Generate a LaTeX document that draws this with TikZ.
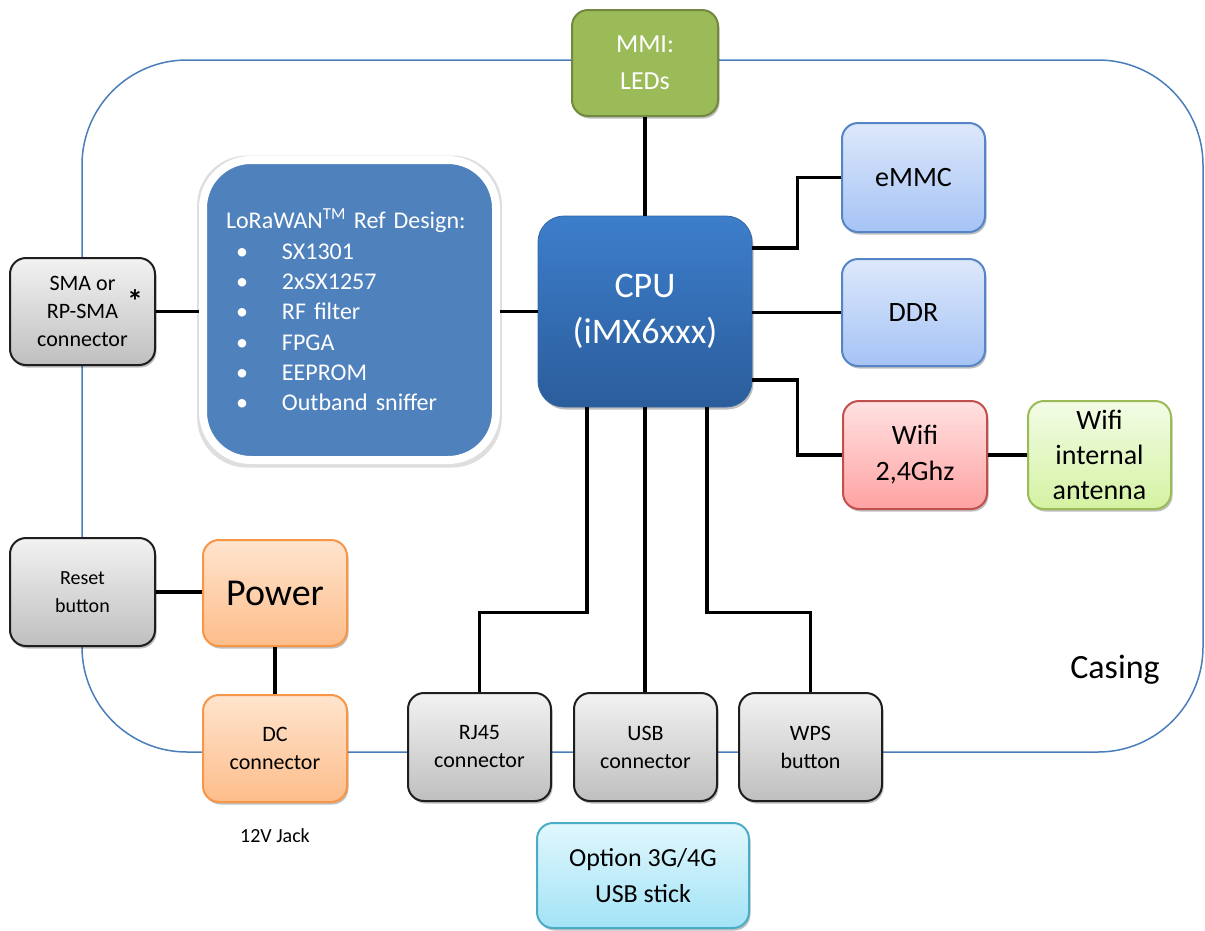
\documentclass[tikz,border=0pt]{standalone}
\usepackage{fontspec}
\setmainfont{Carlito}
\usetikzlibrary{shadows,calc}
\definecolor{casing}{HTML}{4A7EBB}
\definecolor{loraFill}{HTML}{4F81BD}
\definecolor{mmiFill}{HTML}{9BBB59}
\definecolor{mmiLine}{HTML}{71893F}
\definecolor{cpuTop}{HTML}{3D7ECB}
\definecolor{cpuBot}{HTML}{2B5D9C}
\definecolor{grayTop}{HTML}{F2F2F2}
\definecolor{grayBot}{HTML}{BFBFBF}
\definecolor{grayLine}{HTML}{1E1E1E}
\definecolor{lbTop}{HTML}{DDE8FB}
\definecolor{lbBot}{HTML}{A5C3F5}
\definecolor{lbLine}{HTML}{5585C5}
\definecolor{pkTop}{HTML}{FFE1E1}
\definecolor{pkBot}{HTML}{FFA2A2}
\definecolor{pkLine}{HTML}{C0504D}
\definecolor{lgTop}{HTML}{F3FCE6}
\definecolor{lgBot}{HTML}{D4F2A2}
\definecolor{lgLine}{HTML}{9BBB59}
\definecolor{orTop}{HTML}{FFE4CE}
\definecolor{orBot}{HTML}{FDBD8A}
\definecolor{orLine}{HTML}{F79646}
\definecolor{cyTop}{HTML}{E1F7FD}
\definecolor{cyBot}{HTML}{A2E3F6}
\definecolor{cyLine}{HTML}{4BACC6}
\newcommand\loraitem[1]{\makebox[56pt][l]{\hspace*{10pt}•}#1}
\tikzset{
  box/.style={rounded corners=16pt, line width=2pt, align=center, inner sep=0pt,
    text=black, drop shadow={shadow xshift=1.5pt, shadow yshift=-2.5pt, opacity=0.25, fill=black}},
  graybox/.style={box, draw=grayLine, top color=grayTop, bottom color=grayBot},
  lbbox/.style={box, draw=lbLine, top color=lbTop, bottom color=lbBot},
  pkbox/.style={box, draw=pkLine, top color=pkTop, bottom color=pkBot},
  lgbox/.style={box, draw=lgLine, top color=lgTop, bottom color=lgBot},
  orbox/.style={box, draw=orLine, top color=orTop, bottom color=orBot},
  cybox/.style={box, draw=cyLine, top color=cyTop, bottom color=cyBot},
  wire/.style={line width=3.5pt, draw=black},
  fs/.style n args={2}{font=\fontsize{#1}{#2}\selectfont},
}
\begin{document}
\begin{tikzpicture}[x=1pt,y=-1pt]
\useasboundingbox (0,0) rectangle (1205,930);
% casing
\draw[casing, line width=1.5pt, rounded corners=105pt] (82,60) rectangle (1203,752);
% nodes
\node[box, draw=mmiLine, fill=mmiFill, text=white, minimum width=146pt, minimum height=106pt, fs={26}{37}] (mmi) at (645,63) {MMI:\\LEDs};
\node[box, draw=cpuTop!80!black, line width=0.8pt, top color=cpuTop, bottom color=cpuBot, text=white, rounded corners=26pt, minimum width=214pt, minimum height=191pt, fs={36}{46}] (cpu) at (645,311.5) {CPU\\(iMX6xxx)};
\node[box, draw=white, line width=8pt, fill=loraFill, text=white, rounded corners=48pt, minimum width=293pt, minimum height=300pt, text width=247pt, align=left, fs={24}{30.3},
  drop shadow={shadow xshift=0pt, shadow yshift=-1.5pt, shadow scale=1.04, opacity=0.13, fill=black}] (lora) at (349.5,310)
  {LoRaWAN\textsuperscript{TM} Ref Design:\\\loraitem{SX1301}\\\loraitem{2xSX1257}\\\loraitem{RF filter}\\\loraitem{FPGA}\\\loraitem{EEPROM}\\\loraitem{Outband sniffer}};
\node[graybox, minimum width=145pt, minimum height=107pt, fs={22}{28}] (sma) at (82.5,311.5) {SMA or\\RP-SMA\\connector};
\node[font=\bfseries\fontsize{32}{32}\selectfont, inner sep=0pt] (ast) at (135,301) {*};
\node[lbbox, minimum width=143pt, minimum height=109pt, fs={28}{34}] (emmc) at (913.5,177.5) {eMMC};
\node[lbbox, minimum width=143pt, minimum height=107pt, fs={28}{34}] (ddr) at (913.5,312.5) {DDR};
\node[pkbox, minimum width=144pt, minimum height=108pt, fs={28}{36}] (wifi) at (915,455) {Wifi\\2,4Ghz};
\node[lgbox, minimum width=143pt, minimum height=108pt, fs={28}{35}] (ant) at (1099.5,455) {Wifi\\internal\\antenna};
\node[graybox, minimum width=145pt, minimum height=108pt, fs={20}{28}] (reset) at (82.5,592) {Reset\\button};
\node[orbox, minimum width=144pt, minimum height=106pt, fs={38}{44}] (power) at (275,593) {Power};
\node[orbox, minimum width=144pt, minimum height=107pt, fs={22}{28}] (dc) at (275,748.5) {DC\\connector};
\node[graybox, minimum width=143pt, minimum height=108pt, fs={22}{28}] (rj) at (479.5,747) {RJ45\\connector};
\node[graybox, minimum width=143pt, minimum height=108pt, fs={22}{28}] (usb) at (645.5,747) {USB\\connector};
\node[graybox, minimum width=143pt, minimum height=108pt, fs={22}{28}] (wps) at (810.5,747) {WPS\\button};
\node[cybox, minimum width=212pt, minimum height=105pt, fs={26}{36}] (opt) at (643,875.5) {Option 3G/4G\\USB stick};
\node[fs={20}{24}] (jack) at (275,836) {12V Jack};
\node[fs={34}{40}] (casinglabel) at (1115,670) {Casing};
% connectors
\draw[wire] (mmi.south) -- (mmi.south |- cpu.north);
\draw[wire] (sma.east) -- (sma.east -| lora.west);
\draw[wire] (lora.east |- cpu.west) -- (cpu.west);
\draw[wire] (cpu.east |- 0,248) -- ++(45,0) |- (emmc.west);
\draw[wire] (cpu.east |- ddr.west) -- (ddr.west);
\draw[wire] (cpu.east |- 0,380) -- ++(45,0) |- (wifi.west);
\draw[wire] (wifi.east) -- (ant.west);
\draw[wire] (cpu.south -| 587,0) -- ++(0,205) -| (rj.north);
\draw[wire] (cpu.south) -- (cpu.south |- usb.north);
\draw[wire] (cpu.south -| 707,0) -- ++(0,205) -| (wps.north);
\draw[wire] (reset.east) -- (reset.east -| power.west);
\draw[wire] (power.south) -- (dc.north);
\end{tikzpicture}
\end{document}
